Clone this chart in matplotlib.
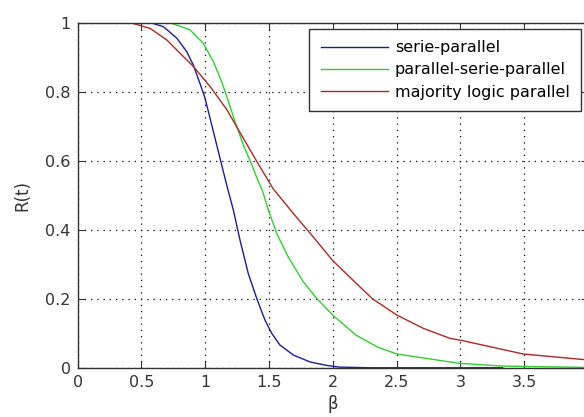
import numpy as np
import matplotlib
matplotlib.use('Agg')
import matplotlib.pyplot as plt

# values
sp_x = [0, 0.567, 0.671, 0.776, 0.854, 0.906, 0.958, 0.998, 1.05, 1.102, 1.141, 1.18, 1.22, 1.272,
        1.337, 1.403, 1.468, 1.52, 1.585, 1.69, 1.82, 1.95, 2.05, 2.3, 3.33]
sp_y = [1, 1.0, 0.988, 0.955, 0.916, 0.877, 0.824, 0.781, 0.704, 0.627, 0.569, 0.512, 0.457, 0.37,
        0.273, 0.201, 0.138, 0.1, 0.066, 0.037, 0.017, 0.007, 0.002, 0.0, 0.0]

psp_x = [0, 0.72, 0.88, 0.984, 1.063, 1.128, 1.168, 1.233, 1.298, 1.364, 1.415, 1.45, 1.494, 1.56,
         1.65, 1.768, 1.873, 2.0, 2.18, 2.35, 2.5, 2.99, 3.33, 4.0]
psp_y = [1, 1.0, 0.979, 0.94, 0.887, 0.829, 0.786, 0.713, 0.646, 0.588, 0.54, 0.511, 0.457, 0.389,
         0.321, 0.249, 0.201, 0.152, 0.095, 0.06, 0.04, 0.013, 0.005, 0.001]

mlp_x = [0, 0.41, 0.567, 0.697, 0.802, 0.906, 1.037, 1.168, 1.298, 1.403, 1.533, 1.69, 1.846, 2.0,
         2.21, 2.31, 2.5, 2.71, 2.92, 3.0, 3.49, 3.96, 4.0]
mlp_y = [1, 1.0, 0.983, 0.95, 0.911, 0.873, 0.815, 0.748, 0.665, 0.598, 0.518, 0.447, 0.379, 0.31,
         0.235, 0.2, 0.153, 0.114, 0.085, 0.08, 0.04, 0.024, 0.023]

labels = ['serie-parallel', 'parallel-serie-parallel', 'majority logic parallel']
xticks = [0, 0.5, 1, 1.5, 2, 2.5, 3, 3.5, 4]
yticks = [0, 0.2, 0.4, 0.6, 0.8, 1]

plt.rcParams['font.family'] = 'DejaVu Sans'
plt.rcParams['font.size'] = 11

fig = plt.figure(figsize=(5.84, 4.17), dpi=100)
fig.patch.set_facecolor('white')
ax = fig.add_axes([0.133, 0.118, 0.874, 0.828])

ax.plot(sp_x, sp_y, color='#1c1c96', lw=1.0, label=labels[0])
ax.plot(psp_x, psp_y, color='#30d030', lw=1.0, label=labels[1])
ax.plot(mlp_x, mlp_y, color='#b02828', lw=1.0, label=labels[2])

ax.set_xlim(0, 4)
ax.set_ylim(0, 1)
ax.set_xticks(xticks)
ax.set_yticks(yticks)
ax.set_xticklabels(['0', '0.5', '1', '1.5', '2', '2.5', '3', '3.5', '4'])
ax.set_yticklabels(['0', '0.2', '0.4', '0.6', '0.8', '1'])
ax.tick_params(direction='in', top=True, right=True, length=5, width=0.8,
               colors='#333333', labelsize=11.5, pad=5)
ax.grid(True, color='black', linestyle=(0, (1, 4)), linewidth=0.9)
for s in ax.spines.values():
    s.set_color('#333333')
    s.set_linewidth(1.0)

ax.set_xlabel('β', fontsize=12, color='#333333', labelpad=4)
ax.set_ylabel('R(t)', fontsize=12, color='#333333', labelpad=10)

leg = ax.legend(loc='upper right', bbox_to_anchor=(0.986, 0.981), fancybox=False,
                framealpha=1, edgecolor='#333333', fontsize=11.5,
                handlelength=4.2, handletextpad=0.45, borderpad=0.7,
                labelspacing=0.45, borderaxespad=0)
leg.get_frame().set_linewidth(1.0)

fig.savefig('out.png', dpi=100, facecolor='white')
